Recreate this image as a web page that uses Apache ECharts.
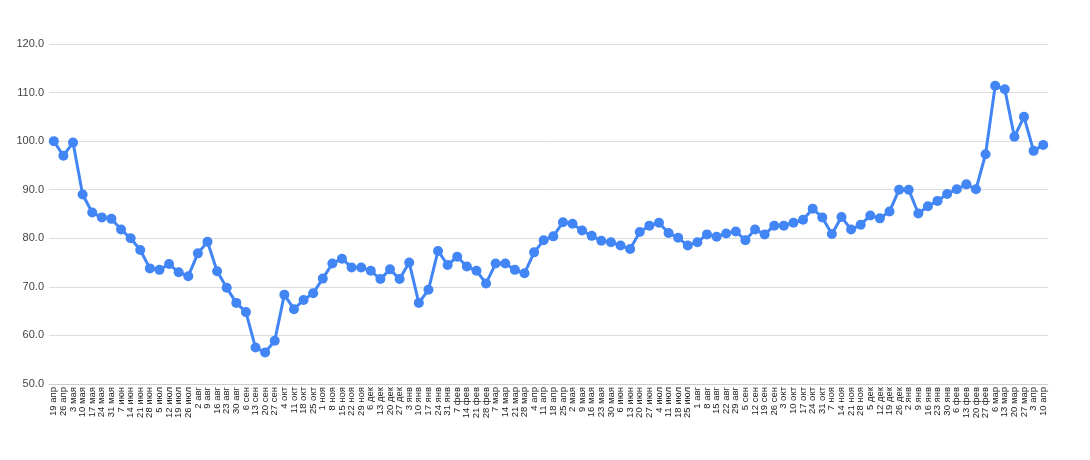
<!DOCTYPE html>
<html>
<head>
<meta charset="utf-8">
<script src="https://cdn.jsdelivr.net/npm/echarts@6/dist/echarts.min.js"></script>
<style>
html,body{margin:0;padding:0;background:#fff;}
#chart{width:1090px;height:460px;}
</style>
</head>
<body>
<div id="chart"></div>
<script>
const categories = [
  "19 апр","26 апр","3 мая","10 мая","17 мая","24 мая","31 мая","7 июн","14 июн","21 июн","28 июн",
  "5 июл","12 июл","19 июл","26 июл","2 авг","9 авг","16 авг","23 авг","30 авг","6 сен","13 сен",
  "20 сен","27 сен","4 окт","11 окт","18 окт","25 окт","1 ноя","8 ноя","15 ноя","22 ноя","29 ноя",
  "6 дек","13 дек","20 дек","27 дек",
  "3 янв","10 янв","17 янв","24 янв","31 янв","7 фев","14 фев","21 фев","28 фев","7 мар","14 мар",
  "21 мар","28 мар","4 апр","11 апр","18 апр","25 апр","2 мая","9 мая","16 мая","23 мая","30 мая",
  "6 июн","13 июн","20 июн","27 июн","4 июл","11 июл","18 июл","25 июл","1 авг","8 авг","15 авг",
  "22 авг","29 авг","5 сен","12 сен","19 сен","26 сен","3 окт","10 окт","17 окт","24 окт","31 окт",
  "7 ноя","14 ноя","21 ноя","28 ноя","5 дек","12 дек","19 дек","26 дек",
  "2 янв","9 янв","16 янв","23 янв","30 янв","6 фев","13 фев","20 фев","27 фев","6 мар","13 мар",
  "20 мар","27 мар","3 апр","10 апр"
];
const values = [
  100.0, 97.0, 99.7, 89.0, 85.3, 84.3, 84.0, 81.8, 80.0, 77.6, 73.8,
  73.5, 74.7, 73.0, 72.2, 76.9, 79.3, 73.2, 69.8, 66.7, 64.8, 57.5,
  56.5, 58.9, 68.4, 65.4, 67.3, 68.7, 71.7, 74.8, 75.8, 74.0, 74.0,
  73.3, 71.6, 73.6, 71.6,
  75.0, 66.7, 69.4, 77.4, 74.5, 76.2, 74.2, 73.3, 70.7, 74.8, 74.8,
  73.5, 72.8, 77.1, 79.6, 80.4, 83.3, 83.0, 81.6, 80.5, 79.5, 79.2,
  78.5, 77.8, 81.3, 82.6, 83.2, 81.1, 80.1, 78.5, 79.2, 80.8, 80.3,
  81.0, 81.4, 79.6, 81.8, 80.8, 82.6, 82.6, 83.2, 83.8, 86.1, 84.3,
  80.9, 84.4, 81.8, 82.8, 84.7, 84.1, 85.5, 90.0,
  90.0, 85.1, 86.6, 87.7, 89.1, 90.1, 91.1, 90.1, 97.3, 111.4, 110.7,
  100.9, 105.0, 98.0, 99.2
];
const yMin = 50, yMax = 120, yStep = 10;

const chart = echarts.init(document.getElementById('chart'), null, {renderer: 'canvas'});
chart.setOption({
  animation: false,
  backgroundColor: '#ffffff',
  grid: {left: 49, right: 42, top: 44, bottom: 76, containLabel: false},
  xAxis: {
    type: 'category',
    data: categories,
    boundaryGap: true,
    axisLine: {show: true, lineStyle: {color: '#cccccc', width: 1}},
    axisTick: {show: false},
    axisLabel: {
      interval: 0,
      rotate: 90,
      fontSize: 9.5,
      color: '#222222',
      fontFamily: 'Liberation Sans, Arial, sans-serif',
      margin: 3
    },
    splitLine: {show: false}
  },
  yAxis: {
    type: 'value',
    min: yMin,
    max: yMax,
    interval: yStep,
    axisLine: {show: false},
    axisTick: {show: false},
    axisLabel: {
      formatter: v => v.toFixed(1),
      fontSize: 11,
      color: '#444444',
      fontFamily: 'Liberation Sans, Arial, sans-serif',
      margin: 5
    },
    splitLine: {show: true, lineStyle: {color: '#dddddd', width: 1}}
  },
  series: [{
    type: 'line',
    data: values,
    symbol: 'circle',
    symbolSize: 10,
    showAllSymbol: true,
    lineStyle: {color: '#4285f4', width: 3},
    itemStyle: {color: '#4285f4'},
    emphasis: {disabled: true}
  }]
});
</script>
</body>
</html>
